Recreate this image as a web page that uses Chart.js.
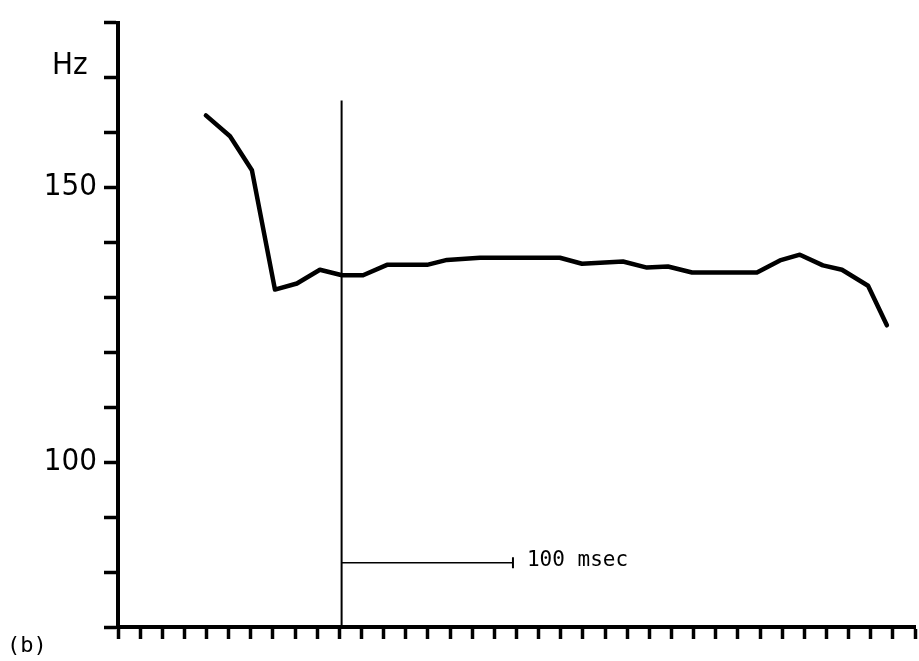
<!DOCTYPE html>
<html>
<head>
<meta charset="utf-8">
<script src="https://cdn.jsdelivr.net/npm/chart.js@4.4.1/dist/chart.umd.min.js"></script>
<style>
  html, body { margin: 0; padding: 0; background: #fff; }
  #wrap { width: 919px; height: 661px; }
</style>
</head>
<body>
<div id="wrap"><canvas id="pitchChart"></canvas></div>
<script>
// x in time-tick units (one axis tick each), y in Hz
const timeSteps = [3.97, 5.06, 6.05, 7.09, 8.08, 9.12, 10.12, 11.07, 12.15, 13.96, 14.86, 16.35, 19.96,
                   20.96, 22.81, 23.89, 24.84, 25.93, 28.86, 29.90, 30.80, 31.84, 32.70, 33.88, 34.73];
const pitchHz = [163.1, 159.3, 153.1, 131.4, 132.5, 135.0, 134.0, 134.0, 135.9, 135.9, 136.8, 137.2, 137.2,
                 136.1, 136.5, 135.4, 135.6, 134.5, 134.5, 136.7, 137.75, 135.8, 135.0, 132.1, 124.9];

const yLabels = [100, 150];          // only these ticks carry a number
const markerX = 10.1;                // vertical reference line
const markerTop = 165.8;
const barStart = 10.1, barEnd = 17.84, barY = 81.7;   // 100 msec scale bar

const narrowFont = '"DejaVu Sans Condensed", "Liberation Sans Narrow", Roboto, sans-serif';
const monoFont = '"DejaVu Sans Mono", "Liberation Mono", monospace';

const ctx = document.getElementById('pitchChart').getContext('2d');

const textPlugin = {
    id: 'labels',
    afterDraw(chart) {
        const c = chart.ctx;
        const xs = chart.scales.x, ys = chart.scales.y;
        c.save();
        c.fillStyle = '#000';
        c.textBaseline = 'alphabetic';
        c.font = '31px ' + narrowFont;
        c.fillText('Hz', xs.left - 66, ys.getPixelForValue(170.6));
        c.font = '21px ' + monoFont;
        c.fillText('100 msec', xs.getPixelForValue(barEnd) + 14, ys.getPixelForValue(barY) + 3);
        c.font = '22px ' + monoFont;
        c.fillText('(b)', 7, 652);
        c.restore();
    }
};

new Chart(ctx, {
    type: 'line',
    data: {
        datasets: [
            {
                data: timeSteps.map((t, i) => ({ x: t, y: pitchHz[i] })),
                borderColor: '#000',
                borderWidth: 4.5,
                pointRadius: 0,
                tension: 0,
                borderJoinStyle: 'round',
                borderCapStyle: 'round'
            },
            {
                data: [{ x: markerX, y: 70 }, { x: markerX, y: markerTop }],
                borderColor: '#000', borderWidth: 2, pointRadius: 0
            },
            {
                data: [{ x: barStart, y: barY }, { x: barEnd, y: barY }],
                borderColor: '#000', borderWidth: 1.5, pointRadius: 0
            },
            {
                data: [{ x: barEnd, y: barY + 1 }, { x: barEnd, y: barY - 1 }],
                borderColor: '#000', borderWidth: 2, pointRadius: 0
            }
        ]
    },
    options: {
        responsive: true,
        maintainAspectRatio: false,
        animation: false,
        layout: { padding: { left: 0, right: 4, top: 18, bottom: 0 } },
        plugins: { legend: { display: false }, tooltip: { enabled: false } },
        scales: {
            x: {
                type: 'linear',
                min: 0,
                max: 36,
                ticks: { stepSize: 1, display: false },
                grid: { drawOnChartArea: false, drawTicks: true, tickLength: 12, tickWidth: 3.5, tickColor: '#000' },
                border: { color: '#000', width: 4 },
                afterFit(scale) { scale.height = 34; }
            },
            y: {
                min: 70,
                max: 180,
                ticks: {
                    stepSize: 10,
                    color: '#000',
                    padding: 7,
                    font: { family: narrowFont, size: 31, lineHeight: 1 },
                    callback: v => yLabels.includes(v) ? String(v) : ''
                },
                grid: { drawOnChartArea: false, drawTicks: true, tickLength: 14, tickWidth: 3.5, tickColor: '#000' },
                border: { color: '#000', width: 4 },
                afterFit(scale) { scale.width = 118; }
            }
        }
    },
    plugins: [textPlugin]
});
</script>
</body>
</html>
